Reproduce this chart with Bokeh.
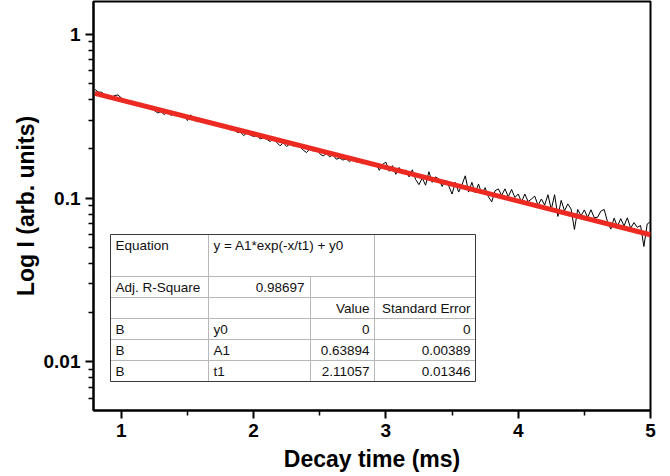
import math
import numpy as np
from bokeh.plotting import figure
from bokeh.models import Range1d, FixedTicker, CustomJSTickFormatter
from bokeh.core.properties import value
from bokeh.embed import file_html
from bokeh.resources import INLINE

# ---------------- data ----------------
t_start, t_step, n_points = 0.8, 0.025, 169
decay_time = np.round(t_start + t_step * np.arange(n_points), 4)
decay_intensity = [
    0.463, 0.445, 0.444, 0.430,
    0.425, 0.412, 0.424, 0.427,
    0.410, 0.397, 0.385, 0.388,
    0.379, 0.382, 0.367, 0.370,
    0.358, 0.357, 0.343, 0.332,
    0.338, 0.324, 0.337, 0.320,
    0.332, 0.322, 0.321, 0.324,
    0.298, 0.323, 0.300, 0.294,
    0.299, 0.290, 0.295, 0.286,
    0.283, 0.285, 0.273, 0.275,
    0.272, 0.261, 0.268, 0.252,
    0.254, 0.241, 0.251, 0.243,
    0.238, 0.242, 0.230, 0.234,
    0.229, 0.222, 0.231, 0.219,
    0.209, 0.218, 0.207, 0.215,
    0.208, 0.212, 0.206, 0.197,
    0.190, 0.200, 0.194, 0.200,
    0.187, 0.181, 0.187, 0.179,
    0.184, 0.173, 0.176, 0.171,
    0.174, 0.167, 0.174, 0.166,
    0.170, 0.162, 0.169, 0.160,
    0.160, 0.163, 0.148, 0.161,
    0.166, 0.146, 0.158, 0.140,
    0.154, 0.141, 0.149, 0.135,
    0.149, 0.130, 0.121, 0.133,
    0.120, 0.145, 0.125, 0.135,
    0.131, 0.118, 0.129, 0.119,
    0.106, 0.125, 0.109, 0.121,
    0.137, 0.109, 0.125, 0.108,
    0.122, 0.106, 0.116, 0.102,
    0.095, 0.111, 0.114, 0.104,
    0.114, 0.102, 0.113, 0.101,
    0.106, 0.0948, 0.106, 0.0954,
    0.0988, 0.103, 0.0903, 0.0989,
    0.0908, 0.105, 0.0853, 0.105,
    0.0774, 0.0970, 0.0837, 0.0923,
    0.0858, 0.0644, 0.0853, 0.0781,
    0.0848, 0.0763, 0.0850, 0.0760,
    0.0765, 0.0834, 0.0853, 0.0718,
    0.0647, 0.0755, 0.0672, 0.0750,
    0.0677, 0.0759, 0.0655, 0.0710,
    0.0664, 0.0681, 0.0507, 0.0695,
    0.0720,
]
fit_time = [0.8, 5.0]
fit_intensity = [0.437, 0.0598]

x_ticks = [1, 2, 3, 4, 5]
x_minor = [1.5, 2.5, 3.5, 4.5]
y_ticks = [0.01, 0.1, 1]
y_minor = [0.006, 0.007, 0.008, 0.009,
           0.02, 0.03, 0.04, 0.05, 0.06, 0.07, 0.08, 0.09,
           0.2, 0.3, 0.4, 0.5, 0.6, 0.7, 0.8, 0.9]

table_rows = [
    ["Equation", "y = A1*exp(-x/t1) + y0", "", ""],
    ["Adj. R-Square", "0.98697", "", ""],
    ["", "", "Value", "Standard Error"],
    ["B", "y0", "0", "0"],
    ["B", "A1", "0.63894", "0.00389"],
    ["B", "t1", "2.11057", "0.01346"],
]

# ---------------- layout ----------------
X0, X1 = 0.79, 5.0
Y0, Y1 = 0.00505, 1.59
FL, FR, FT, FB = 93, 650, 1, 410
W, H = 670, 476
FONT = "Liberation Sans"

p = figure(width=W, height=H, output_backend="svg", toolbar_location=None,
           y_axis_type="log",
           x_range=Range1d(X0, X1), y_range=Range1d(Y0, Y1),
           min_border_left=FL, min_border_right=W - FR,
           min_border_top=FT, min_border_bottom=H - FB)
p.outline_line_color = "black"
p.outline_line_width = 2
p.xgrid.visible = False
p.ygrid.visible = False

# data
p.line(decay_time, decay_intensity, line_color="black", line_width=1)
p.line(fit_time, fit_intensity, line_color="#ec2a22", line_width=5)

# axes
for ax in (p.xaxis[0], p.yaxis[0]):
    ax.axis_line_width = 2
    ax.axis_line_color = "black"
    ax.major_tick_line_color = "black"
    ax.minor_tick_line_color = "black"
    ax.major_tick_line_width = 2
    ax.minor_tick_line_width = 1.5
    ax.major_tick_out = 8
    ax.major_tick_in = 0
    ax.minor_tick_out = 5
    ax.minor_tick_in = 0
    ax.major_label_text_font = FONT
    ax.major_label_text_font_style = "bold"
    ax.major_label_text_font_size = "19px"
    ax.major_label_text_color = "black"
    ax.axis_label_text_font = FONT
    ax.axis_label_text_font_style = "bold"
    ax.axis_label_text_font_size = "23px"
    ax.axis_label_text_color = "black"

p.xaxis.ticker = FixedTicker(ticks=x_ticks, minor_ticks=x_minor)
p.yaxis.ticker = FixedTicker(ticks=y_ticks, minor_ticks=y_minor)
p.yaxis.formatter = CustomJSTickFormatter(code="return String(tick)")
p.xaxis.axis_label = "Decay time (ms)"
p.yaxis.axis_label = "Log I (arb. units)"
p.xaxis.major_label_standoff = 5
p.yaxis.major_label_standoff = 5
p.xaxis.axis_label_standoff = 6
p.yaxis.axis_label_standoff = 2


# ---------------- fit table (annotation, placed in screen pixels) ----------------
def sx(px):
    return X0 + (px - FL) * (X1 - X0) / (FR - FL)


def sy(py):
    l0, l1 = math.log10(Y0), math.log10(Y1)
    return 10 ** (l1 - (py - FT) * (l1 - l0) / (FB - FT))


col_px = [110, 208, 310, 374, 475]
row_px = [234, 276, 297, 318, 339, 360, 381]

p.quad(left=[sx(col_px[0])], right=[sx(col_px[-1])],
       top=[sy(row_px[0])], bottom=[sy(row_px[-1])],
       fill_color="white", line_color=None)

seg_x0, seg_y0, seg_x1, seg_y1 = [], [], [], []
for r in row_px[1:-1]:
    seg_x0.append(sx(col_px[0])); seg_x1.append(sx(col_px[-1]))
    seg_y0.append(sy(r)); seg_y1.append(sy(r))
for c, top in ((col_px[1], row_px[0]), (col_px[2], row_px[1]), (col_px[3], row_px[0])):
    seg_x0.append(sx(c)); seg_x1.append(sx(c))
    seg_y0.append(sy(top)); seg_y1.append(sy(row_px[-1]))
p.segment(seg_x0, seg_y0, seg_x1, seg_y1, line_color="#b8b8b8", line_width=1)

p.quad(left=[sx(col_px[0])], right=[sx(col_px[-1])],
       top=[sy(row_px[0])], bottom=[sy(row_px[-1])],
       fill_color=None, line_color="#3a3a3a", line_width=1)

tx, ty, tt, ta = [], [], [], []
row_centers = [245] + [(row_px[i] + row_px[i + 1]) / 2 for i in range(1, 6)]
for ri, row in enumerate(table_rows):
    yc = sy(row_centers[ri])
    for ci, txt in enumerate(row):
        if not txt:
            continue
        if ri == 1 and ci == 1:
            xpx, al = col_px[2] - 6, "right"
        elif ci >= 2:
            xpx, al = col_px[ci + 1] - 5, "right"
        else:
            xpx, al = col_px[ci] + 5, "left"
        tx.append(sx(xpx)); ty.append(yc); tt.append(txt); ta.append(al)

p.text(x=tx, y=ty, text=tt, text_align=ta, text_baseline="middle",
       text_font=value(FONT), text_font_size="13.5px", text_color="#111111")

open("out.html", "w").write(file_html(p, INLINE))
